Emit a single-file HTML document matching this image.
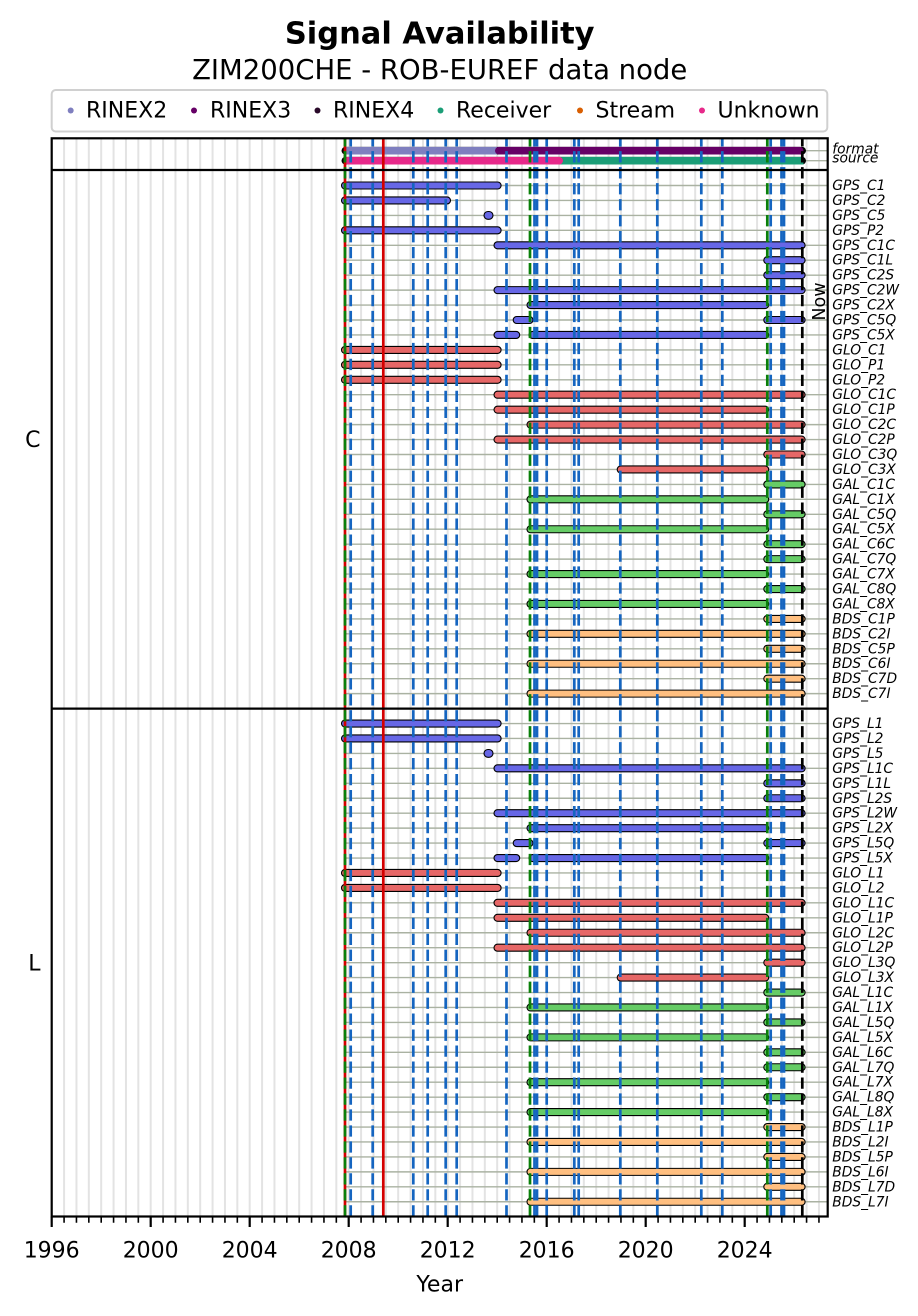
<!DOCTYPE html>
<html><head><meta charset="utf-8"><style>
html,body{margin:0;padding:0;background:#fff;}
svg{display:block;}
.g{fill:#6767e6}.r{fill:#e66767}.e{fill:#66cc66}.b{fill:#ffbf80}
.lb{font-size:13.8px;font-style:italic;}
</style></head><body>
<svg width="918" height="1316" xmlns="http://www.w3.org/2000/svg" font-family="DejaVu Sans, Liberation Sans, sans-serif">
<rect width="918" height="1316" fill="#fff"/>
<text x="439.7" y="43.3" font-size="30.5" font-weight="bold" text-anchor="middle">Signal Availability</text>
<text x="439.7" y="79" font-size="27.5" text-anchor="middle">ZIM200CHE - ROB-EUREF data node</text>

<!-- legend -->
<rect x="51.7" y="90" width="775.6" height="41.5" rx="4" fill="#fff" stroke="#d0d0d0" stroke-width="2"/>
<g font-size="22">
<circle cx="70.7" cy="110.5" r="3" fill="#7f7fbf"/><text x="86" y="117.7">RINEX2</text>
<circle cx="194" cy="110.5" r="3" fill="#660066"/><text x="210" y="117.7">RINEX3</text>
<circle cx="317.5" cy="110.5" r="3" fill="#2a0a2a"/><text x="333" y="117.7">RINEX4</text>
<circle cx="440.5" cy="110.5" r="3" fill="#1b9e77"/><text x="456" y="117.7">Receiver</text>
<circle cx="580" cy="110.5" r="3" fill="#d95f02"/><text x="595.5" y="117.7">Stream</text>
<circle cx="702" cy="110.5" r="3" fill="#e7298a"/><text x="717.5" y="117.7">Unknown</text>
</g>

<!-- vertical grid -->
<line x1="63.075" y1="677.4" x2="827" y2="677.4" stroke="#e3e3e3" stroke-width="1078.2" stroke-dasharray="2 10.375"/>
<!-- row lines -->
<line x1="586" y1="184.8" x2="586" y2="1203" stroke="#aab2a2" stroke-width="482" stroke-dasharray="1.4 13.545"/>
<line x1="345" y1="150.7" x2="827" y2="150.7" stroke="#aab2a2" stroke-width="1.4"/>
<line x1="345" y1="160.7" x2="827" y2="160.7" stroke="#aab2a2" stroke-width="1.4"/>

<!-- format / source -->
<rect x="341.5" y="146.9" width="464.5" height="7.6" rx="3.8" fill="#000"/>
<rect x="344" y="146.9" width="153" height="7.6" fill="#7f7fbf"/>
<rect x="495" y="146.9" width="308.5" height="7.6" rx="3.8" fill="#660066"/>
<rect x="341.5" y="156.9" width="464.5" height="7.6" rx="3.8" fill="#000"/>
<rect x="560" y="156.9" width="243.5" height="7.6" fill="#1b9e77"/>
<rect x="344" y="156.9" width="219" height="7.6" rx="3.8" fill="#e7298a"/>

<!-- bars -->
<g stroke="#000" stroke-width="1.1">
<rect class="g" x="341.5" y="182.0" width="159.6" height="7" rx="3.5"/>
<rect class="g" x="341.5" y="196.95" width="109" height="7" rx="3.5"/>
<rect class="g" x="484" y="211.5" width="9" height="7.8" rx="3.9"/>
<rect class="g" x="341.5" y="226.84" width="159.6" height="7" rx="3.5"/>
<rect class="g" x="494" y="241.78" width="311.1" height="7" rx="3.5"/>
<rect class="g" x="763.8" y="256.73" width="41.3" height="7" rx="3.5"/>
<rect class="g" x="763.8" y="271.67" width="41.3" height="7" rx="3.5"/>
<rect class="g" x="494" y="286.62" width="311.1" height="7" rx="3.5"/>
<rect class="g" x="527" y="301.56" width="241.7" height="7" rx="3.5"/>
<rect class="g" x="513.2" y="316.51" width="19.8" height="7" rx="3.5"/>
<rect class="g" x="763.8" y="316.51" width="41.3" height="7" rx="3.5"/>
<rect class="g" x="494" y="331.45" width="25.7" height="7" rx="3.5"/>
<rect class="g" x="529" y="331.45" width="239.7" height="7" rx="3.5"/>
<rect class="r" x="341.5" y="346.40" width="159.6" height="7" rx="3.5"/>
<rect class="r" x="341.5" y="361.34" width="159.6" height="7" rx="3.5"/>
<rect class="r" x="341.5" y="376.29" width="159.6" height="7" rx="3.5"/>
<rect class="r" x="494" y="391.23" width="311.1" height="7" rx="3.5"/>
<rect class="r" x="494" y="406.18" width="274.7" height="7" rx="3.5"/>
<rect class="r" x="527" y="421.12" width="278.1" height="7" rx="3.5"/>
<rect class="r" x="494" y="436.07" width="311.1" height="7" rx="3.5"/>
<rect class="r" x="763.8" y="451.01" width="41.3" height="7" rx="3.5"/>
<rect class="r" x="617.2" y="465.96" width="151.5" height="7" rx="3.5"/>
<rect class="e" x="763.8" y="480.90" width="41.3" height="7" rx="3.5"/>
<rect class="e" x="527" y="495.85" width="241.7" height="7" rx="3.5"/>
<rect class="e" x="763.8" y="510.79" width="41.3" height="7" rx="3.5"/>
<rect class="e" x="527" y="525.74" width="241.7" height="7" rx="3.5"/>
<rect class="e" x="763.8" y="540.68" width="41.3" height="7" rx="3.5"/>
<rect class="e" x="763.8" y="555.63" width="41.3" height="7" rx="3.5"/>
<rect class="e" x="527" y="570.57" width="241.7" height="7" rx="3.5"/>
<rect class="e" x="763.8" y="585.52" width="41.3" height="7" rx="3.5"/>
<rect class="e" x="527" y="600.46" width="241.7" height="7" rx="3.5"/>
<rect class="b" x="763.8" y="615.41" width="41.3" height="7" rx="3.5"/>
<rect class="b" x="527" y="630.35" width="278.1" height="7" rx="3.5"/>
<rect class="b" x="763.8" y="645.30" width="41.3" height="7" rx="3.5"/>
<rect class="b" x="527" y="660.24" width="278.1" height="7" rx="3.5"/>
<rect class="b" x="763.8" y="675.19" width="41.3" height="7" rx="3.5"/>
<rect class="b" x="527" y="690.13" width="278.1" height="7" rx="3.5"/>

<rect class="g" x="341.5" y="720.02" width="159.6" height="7" rx="3.5"/>
<rect class="g" x="341.5" y="734.97" width="159.6" height="7" rx="3.5"/>
<rect class="g" x="484" y="749.5" width="9" height="7.8" rx="3.9"/>
<rect class="g" x="494" y="764.86" width="311.1" height="7" rx="3.5"/>
<rect class="g" x="763.8" y="779.80" width="41.3" height="7" rx="3.5"/>
<rect class="g" x="763.8" y="794.75" width="41.3" height="7" rx="3.5"/>
<rect class="g" x="494" y="809.69" width="311.1" height="7" rx="3.5"/>
<rect class="g" x="527" y="824.64" width="241.7" height="7" rx="3.5"/>
<rect class="g" x="513.2" y="839.58" width="19.8" height="7" rx="3.5"/>
<rect class="g" x="763.8" y="839.58" width="41.3" height="7" rx="3.5"/>
<rect class="g" x="494" y="854.53" width="25.7" height="7" rx="3.5"/>
<rect class="g" x="529" y="854.53" width="239.7" height="7" rx="3.5"/>
<rect class="r" x="341.5" y="869.47" width="159.6" height="7" rx="3.5"/>
<rect class="r" x="341.5" y="884.42" width="159.6" height="7" rx="3.5"/>
<rect class="r" x="494" y="899.36" width="311.1" height="7" rx="3.5"/>
<rect class="r" x="494" y="914.31" width="274.7" height="7" rx="3.5"/>
<rect class="r" x="527" y="929.25" width="278.1" height="7" rx="3.5"/>
<rect class="r" x="494" y="944.20" width="311.1" height="7" rx="3.5"/>
<rect class="r" x="763.8" y="959.14" width="41.3" height="7" rx="3.5"/>
<rect class="r" x="617.2" y="974.09" width="151.5" height="7" rx="3.5"/>
<rect class="e" x="763.8" y="989.03" width="41.3" height="7" rx="3.5"/>
<rect class="e" x="527" y="1003.98" width="241.7" height="7" rx="3.5"/>
<rect class="e" x="763.8" y="1018.92" width="41.3" height="7" rx="3.5"/>
<rect class="e" x="527" y="1033.87" width="241.7" height="7" rx="3.5"/>
<rect class="e" x="763.8" y="1048.81" width="41.3" height="7" rx="3.5"/>
<rect class="e" x="763.8" y="1063.76" width="41.3" height="7" rx="3.5"/>
<rect class="e" x="527" y="1078.70" width="241.7" height="7" rx="3.5"/>
<rect class="e" x="763.8" y="1093.65" width="41.3" height="7" rx="3.5"/>
<rect class="e" x="527" y="1108.59" width="241.7" height="7" rx="3.5"/>
<rect class="b" x="763.8" y="1123.54" width="41.3" height="7" rx="3.5"/>
<rect class="b" x="527" y="1138.48" width="278.1" height="7" rx="3.5"/>
<rect class="b" x="763.8" y="1153.43" width="41.3" height="7" rx="3.5"/>
<rect class="b" x="527" y="1168.37" width="278.1" height="7" rx="3.5"/>
<rect class="b" x="763.8" y="1183.32" width="41.3" height="7" rx="3.5"/>
<rect class="b" x="527" y="1198.26" width="278.1" height="7" rx="3.5"/>
</g>

<!-- event lines -->
<g stroke-width="2.7" fill="none">
<line x1="345" y1="1216.5" x2="345" y2="138.3" stroke="#d40000"/>
<line x1="345" y1="1216.5" x2="345" y2="138.3" stroke="#0a800a" stroke-dasharray="11.3 4.67"/>
<line x1="383.3" y1="1216.5" x2="383.3" y2="138.3" stroke="#d40000"/>
<g stroke="#1565c0" stroke-dasharray="11.3 4.67">
<line x1="350.7" y1="1216.5" x2="350.7" y2="138.3"/>
<line x1="372.7" y1="1216.5" x2="372.7" y2="138.3"/>
<line x1="413.3" y1="1216.5" x2="413.3" y2="138.3"/>
<line x1="427.7" y1="1216.5" x2="427.7" y2="138.3"/>
<line x1="445.7" y1="1216.5" x2="445.7" y2="138.3"/>
<line x1="456.7" y1="1216.5" x2="456.7" y2="138.3"/>
<line x1="506.5" y1="1216.5" x2="506.5" y2="138.3"/>
<line x1="534.5" y1="1216.5" x2="534.5" y2="138.3"/>
<line x1="537" y1="1216.5" x2="537" y2="138.3"/>
<line x1="546.7" y1="1216.5" x2="546.7" y2="138.3"/>
<line x1="574.3" y1="1216.5" x2="574.3" y2="138.3"/>
<line x1="578.7" y1="1216.5" x2="578.7" y2="138.3"/>
<line x1="620.3" y1="1216.5" x2="620.3" y2="138.3"/>
<line x1="657.3" y1="1216.5" x2="657.3" y2="138.3"/>
<line x1="701.3" y1="1216.5" x2="701.3" y2="138.3"/>
<line x1="722.3" y1="1216.5" x2="722.3" y2="138.3"/>
<line x1="770.7" y1="1216.5" x2="770.7" y2="138.3"/>
<line x1="781.5" y1="1216.5" x2="781.5" y2="138.3"/>
<line x1="784" y1="1216.5" x2="784" y2="138.3"/>
</g>
<g stroke="#0a800a" stroke-dasharray="11.3 4.67">
<line x1="530" y1="1216.5" x2="530" y2="138.3"/>
<line x1="767.3" y1="1216.5" x2="767.3" y2="138.3"/>
</g>
<line x1="802.3" y1="1216.5" x2="802.3" y2="138.3" stroke="#000" stroke-dasharray="11.3 4.67"/>
</g>

<!-- Now label -->
<text transform="translate(825,301.5) rotate(-90)" font-size="17.6" text-anchor="middle">Now</text>

<!-- spines & separators -->
<rect x="51.7" y="138.3" width="776" height="1078.2" fill="none" stroke="#000" stroke-width="2.2"/>
<line x1="51.7" y1="170" x2="827.7" y2="170" stroke="#000" stroke-width="2.2"/>
<line x1="51.7" y1="708.6" x2="827.7" y2="708.6" stroke="#000" stroke-width="2.2"/>

<!-- x ticks -->
<line x1="50.9" y1="1219.6" x2="820" y2="1219.6" stroke="#000" stroke-width="6.2" stroke-dasharray="1.6 10.775"/>
<g stroke="#000" stroke-width="2.2">
<line x1="51.7" y1="1216.5" x2="51.7" y2="1227"/>
<line x1="150.7" y1="1216.5" x2="150.7" y2="1227"/>
<line x1="249.7" y1="1216.5" x2="249.7" y2="1227"/>
<line x1="348.7" y1="1216.5" x2="348.7" y2="1227"/>
<line x1="447.7" y1="1216.5" x2="447.7" y2="1227"/>
<line x1="546.7" y1="1216.5" x2="546.7" y2="1227"/>
<line x1="645.7" y1="1216.5" x2="645.7" y2="1227"/>
<line x1="744.7" y1="1216.5" x2="744.7" y2="1227"/>
</g>
<g font-size="22" text-anchor="middle">
<text x="51.7" y="1257.3">1996</text>
<text x="150.7" y="1257.3">2000</text>
<text x="249.7" y="1257.3">2004</text>
<text x="348.7" y="1257.3">2008</text>
<text x="447.7" y="1257.3">2012</text>
<text x="546.7" y="1257.3">2016</text>
<text x="645.7" y="1257.3">2020</text>
<text x="744.7" y="1257.3">2024</text>
<text x="439.7" y="1291.7">Year</text>
</g>
<g font-size="22" text-anchor="end">
<text x="40.5" y="447">C</text>
<text x="40.5" y="970.6">L</text>
</g>

<!-- right labels -->
<g class="lb">
<text x="832.3" y="153.3">format</text>
<text x="832.3" y="162.7">source</text>
<text x="832.3" y="190.0">GPS_C1</text>
<text x="832.3" y="204.95">GPS_C2</text>
<text x="832.3" y="219.89">GPS_C5</text>
<text x="832.3" y="234.84">GPS_P2</text>
<text x="832.3" y="249.78">GPS_C1C</text>
<text x="832.3" y="264.73">GPS_C1L</text>
<text x="832.3" y="279.67">GPS_C2S</text>
<text x="832.3" y="294.62">GPS_C2W</text>
<text x="832.3" y="309.56">GPS_C2X</text>
<text x="832.3" y="324.51">GPS_C5Q</text>
<text x="832.3" y="339.45">GPS_C5X</text>
<text x="832.3" y="354.40">GLO_C1</text>
<text x="832.3" y="369.34">GLO_P1</text>
<text x="832.3" y="384.29">GLO_P2</text>
<text x="832.3" y="399.23">GLO_C1C</text>
<text x="832.3" y="414.18">GLO_C1P</text>
<text x="832.3" y="429.12">GLO_C2C</text>
<text x="832.3" y="444.07">GLO_C2P</text>
<text x="832.3" y="459.01">GLO_C3Q</text>
<text x="832.3" y="473.96">GLO_C3X</text>
<text x="832.3" y="488.90">GAL_C1C</text>
<text x="832.3" y="503.85">GAL_C1X</text>
<text x="832.3" y="518.79">GAL_C5Q</text>
<text x="832.3" y="533.74">GAL_C5X</text>
<text x="832.3" y="548.68">GAL_C6C</text>
<text x="832.3" y="563.63">GAL_C7Q</text>
<text x="832.3" y="578.57">GAL_C7X</text>
<text x="832.3" y="593.52">GAL_C8Q</text>
<text x="832.3" y="608.46">GAL_C8X</text>
<text x="832.3" y="623.41">BDS_C1P</text>
<text x="832.3" y="638.35">BDS_C2I</text>
<text x="832.3" y="653.30">BDS_C5P</text>
<text x="832.3" y="668.24">BDS_C6I</text>
<text x="832.3" y="683.19">BDS_C7D</text>
<text x="832.3" y="698.13">BDS_C7I</text>
<text x="832.3" y="728.02">GPS_L1</text>
<text x="832.3" y="742.97">GPS_L2</text>
<text x="832.3" y="757.91">GPS_L5</text>
<text x="832.3" y="772.86">GPS_L1C</text>
<text x="832.3" y="787.80">GPS_L1L</text>
<text x="832.3" y="802.75">GPS_L2S</text>
<text x="832.3" y="817.69">GPS_L2W</text>
<text x="832.3" y="832.64">GPS_L2X</text>
<text x="832.3" y="847.58">GPS_L5Q</text>
<text x="832.3" y="862.53">GPS_L5X</text>
<text x="832.3" y="877.47">GLO_L1</text>
<text x="832.3" y="892.42">GLO_L2</text>
<text x="832.3" y="907.36">GLO_L1C</text>
<text x="832.3" y="922.31">GLO_L1P</text>
<text x="832.3" y="937.25">GLO_L2C</text>
<text x="832.3" y="952.20">GLO_L2P</text>
<text x="832.3" y="967.14">GLO_L3Q</text>
<text x="832.3" y="982.09">GLO_L3X</text>
<text x="832.3" y="997.03">GAL_L1C</text>
<text x="832.3" y="1011.98">GAL_L1X</text>
<text x="832.3" y="1026.92">GAL_L5Q</text>
<text x="832.3" y="1041.87">GAL_L5X</text>
<text x="832.3" y="1056.81">GAL_L6C</text>
<text x="832.3" y="1071.76">GAL_L7Q</text>
<text x="832.3" y="1086.70">GAL_L7X</text>
<text x="832.3" y="1101.65">GAL_L8Q</text>
<text x="832.3" y="1116.59">GAL_L8X</text>
<text x="832.3" y="1131.54">BDS_L1P</text>
<text x="832.3" y="1146.48">BDS_L2I</text>
<text x="832.3" y="1161.43">BDS_L5P</text>
<text x="832.3" y="1176.37">BDS_L6I</text>
<text x="832.3" y="1191.32">BDS_L7D</text>
<text x="832.3" y="1206.26">BDS_L7I</text>
</g>
</svg>
</body></html>
